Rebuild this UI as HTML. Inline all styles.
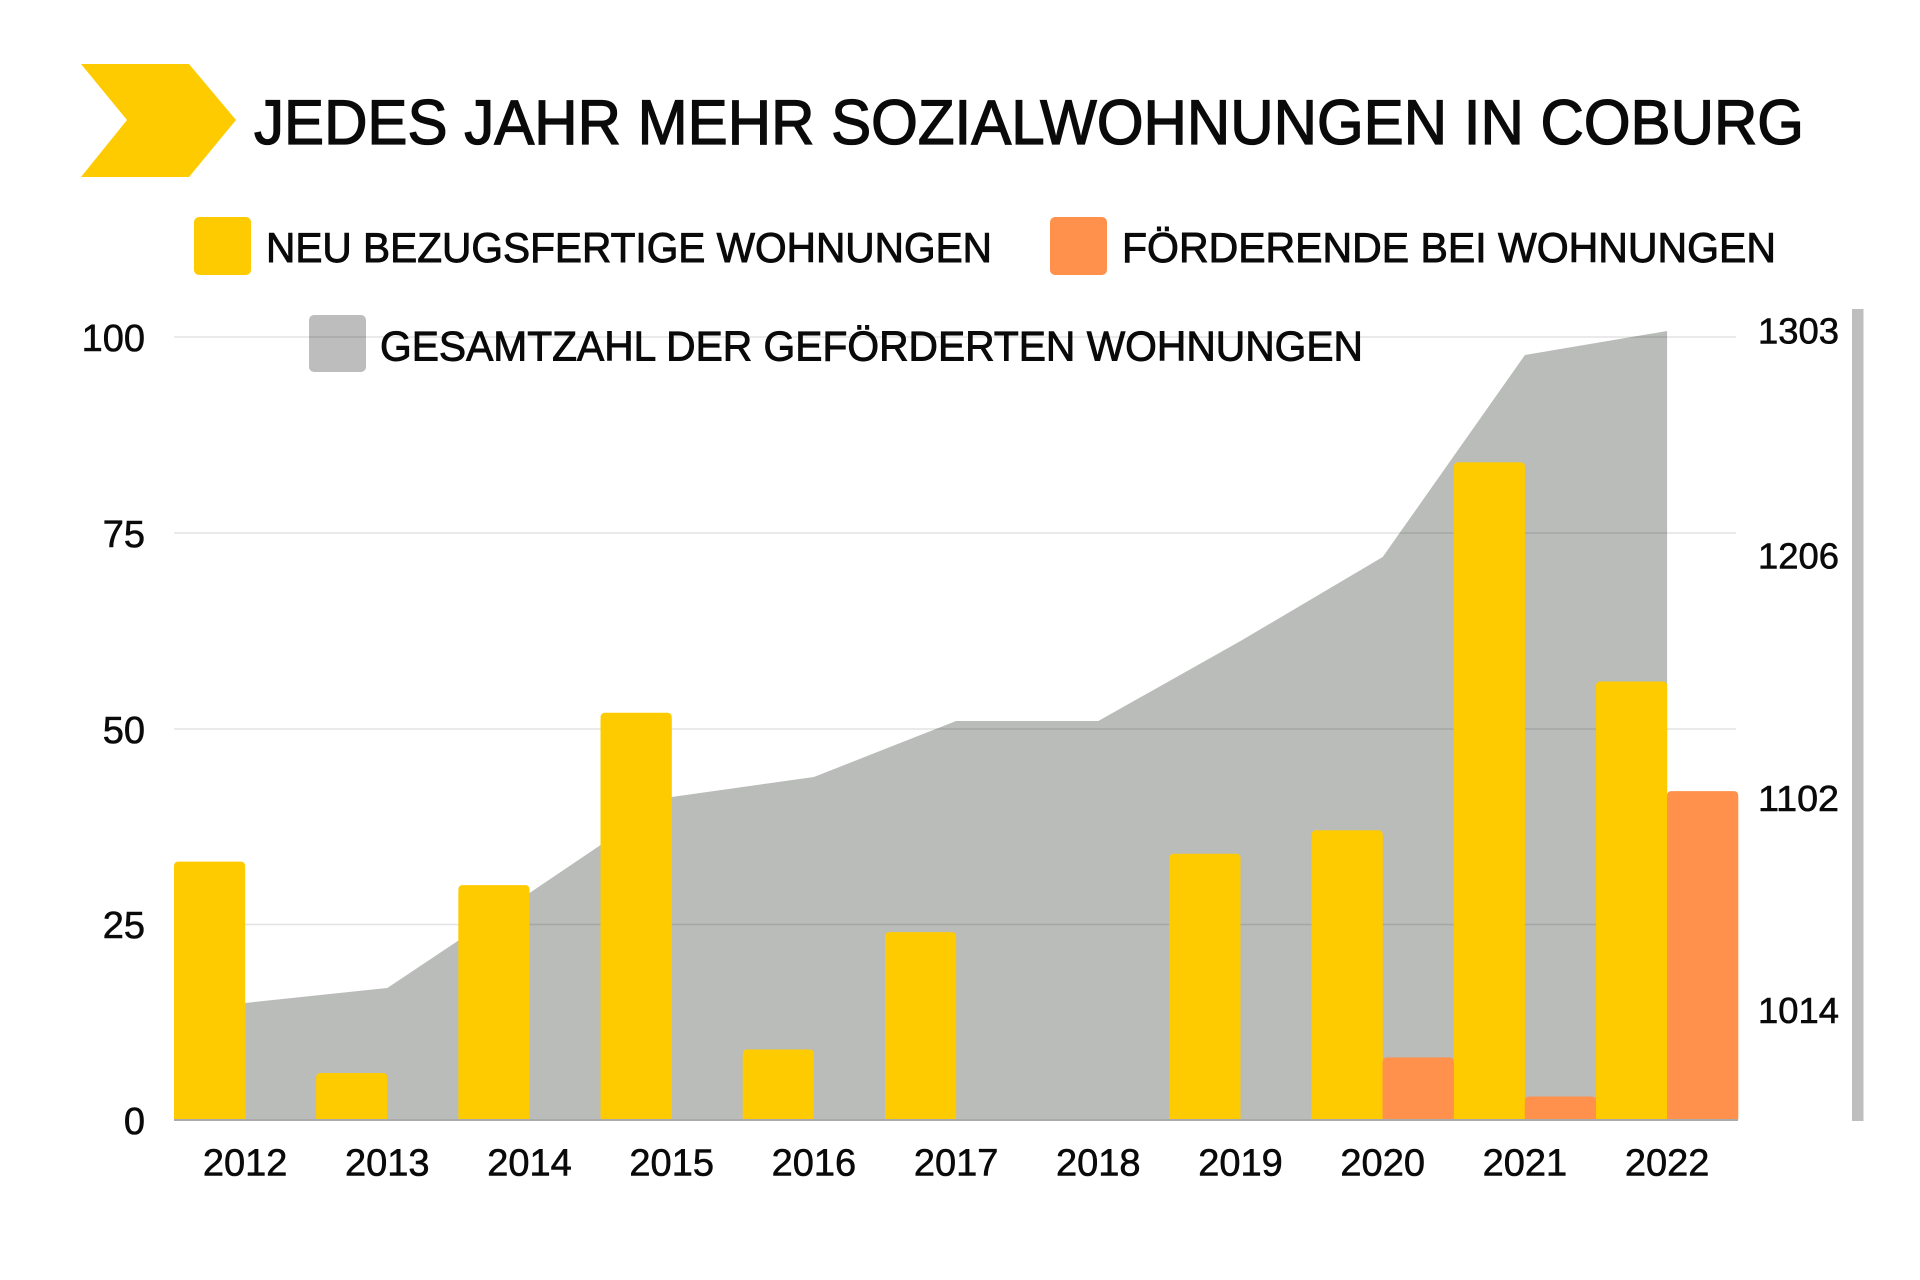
<!DOCTYPE html>
<html>
<head>
<meta charset="utf-8">
<style>
  html, body { margin: 0; padding: 0; background: #ffffff; }
  svg { display: block; }
  text { font-family: "Liberation Sans", "DejaVu Sans", sans-serif; fill: #0a0a0a; }
</style>
</head>
<body>
<svg width="1920" height="1280" viewBox="0 0 1920 1280" xmlns="http://www.w3.org/2000/svg">
  <rect x="0" y="0" width="1920" height="1280" fill="#ffffff"/>

  <!-- Chevron -->
  <polygon points="81,64 189,64 236,120 189,177 81,177 127,120" fill="#FECB00"/>

  <!-- Title -->
  <text x="254" y="144" font-size="63" textLength="1550" lengthAdjust="spacingAndGlyphs" stroke="#0a0a0a" stroke-width="1.3">JEDES JAHR MEHR SOZIALWOHNUNGEN IN COBURG</text>

  <!-- Legend -->
  <rect x="194" y="217" width="57" height="58" rx="5" fill="#FECB00"/>
  <text x="266" y="262" font-size="42" textLength="726" lengthAdjust="spacingAndGlyphs" stroke="#0a0a0a" stroke-width="0.9">NEU BEZUGSFERTIGE WOHNUNGEN</text>

  <rect x="1050" y="217" width="57" height="58" rx="5" fill="#FF914D"/>
  <text x="1122" y="262" font-size="42" textLength="654" lengthAdjust="spacingAndGlyphs" stroke="#0a0a0a" stroke-width="0.9">FÖRDERENDE BEI WOHNUNGEN</text>

  <rect x="309" y="315" width="57" height="57" rx="5" fill="#BDBDBD"/>
  <text x="380" y="360.5" font-size="42" textLength="983" lengthAdjust="spacingAndGlyphs" stroke="#0a0a0a" stroke-width="0.9">GESAMTZAHL DER GEFÖRDERTEN WOHNUNGEN</text>

  <!-- Gridline 100 (behind legend area is fine) -->
  <!-- Gray area -->
  <polygon fill="#BABCBA" points="245.1,1120 245.1,1003 387.3,988 529.5,893 671.7,797 813.9,777 956.1,721 1098.3,721 1240.5,641 1382.7,557 1524.9,355 1667.1,331 1667.1,1120"/>

  <!-- Gridlines -->
  <g stroke="rgba(0,0,0,0.11)" stroke-width="1.6">
    <line x1="174" y1="337" x2="1736" y2="337"/>
    <line x1="174" y1="533" x2="1736" y2="533"/>
    <line x1="174" y1="729" x2="1736" y2="729"/>
    <line x1="174" y1="924.5" x2="1736" y2="924.5"/>
  </g>

  <!-- Yellow bars -->
  <g fill="#FECB00">
    <rect x="174" y="861.6" width="71.1" height="258.4" rx="4"/><rect x="174" y="868" width="71.1" height="252"/>
    <rect x="316.2" y="1073" width="71.1" height="47" rx="4"/><rect x="316.2" y="1079" width="71.1" height="41"/>
    <rect x="458.4" y="885.1" width="71.1" height="234.9" rx="4"/><rect x="458.4" y="891" width="71.1" height="229"/>
    <rect x="600.6" y="712.8" width="71.1" height="407.2" rx="4"/><rect x="600.6" y="719" width="71.1" height="401"/>
    <rect x="742.8" y="1049.5" width="71.1" height="70.5" rx="4"/><rect x="742.8" y="1056" width="71.1" height="64"/>
    <rect x="885" y="932.1" width="71.1" height="187.9" rx="4"/><rect x="885" y="938" width="71.1" height="182"/>
    <rect x="1169.4" y="853.8" width="71.1" height="266.2" rx="4"/><rect x="1169.4" y="860" width="71.1" height="260"/>
    <rect x="1311.6" y="830.3" width="71.1" height="289.7" rx="4"/><rect x="1311.6" y="836" width="71.1" height="284"/>
    <rect x="1453.8" y="462.3" width="71.1" height="657.7" rx="4"/><rect x="1453.8" y="468" width="71.1" height="652"/>
    <rect x="1596" y="681.5" width="71.1" height="438.5" rx="4"/><rect x="1596" y="688" width="71.1" height="432"/>
  </g>

  <!-- Orange bars -->
  <g fill="#FF914D">
    <rect x="1382.7" y="1057.4" width="71.1" height="62.6" rx="4"/><rect x="1382.7" y="1063" width="71.1" height="57"/>
    <rect x="1524.9" y="1096.5" width="71.1" height="23.5" rx="4"/><rect x="1524.9" y="1102" width="71.1" height="18"/>
    <rect x="1667.1" y="791.1" width="71.1" height="328.9" rx="4"/><rect x="1667.1" y="797" width="71.1" height="323"/>
  </g>

  <!-- Baseline -->
  <line x1="174" y1="1120" x2="1738" y2="1120" stroke="#AAAAAA" stroke-width="2"/>

  <!-- Left axis labels -->
  <g font-size="38" text-anchor="end" stroke="#0a0a0a" stroke-width="0.6">
    <text x="145" y="351">100</text>
    <text x="145" y="547">75</text>
    <text x="145" y="743">50</text>
    <text x="145" y="938">25</text>
    <text x="145" y="1134">0</text>
  </g>

  <!-- Right axis bar -->
  <rect x="1852" y="309" width="11.5" height="812" fill="#BDBEBD"/>

  <!-- Right axis labels -->
  <g font-size="36" stroke="#0a0a0a" stroke-width="0.6">
    <text x="1758" y="343.6" textLength="81" lengthAdjust="spacingAndGlyphs">1303</text>
    <text x="1758" y="568.6" textLength="81" lengthAdjust="spacingAndGlyphs">1206</text>
    <text x="1758" y="811" textLength="81" lengthAdjust="spacingAndGlyphs">1102</text>
    <text x="1758" y="1023" textLength="81" lengthAdjust="spacingAndGlyphs">1014</text>
  </g>

  <!-- Year labels -->
  <g font-size="38" text-anchor="middle" stroke="#0a0a0a" stroke-width="0.6">
    <text x="245.1" y="1175.5">2012</text>
    <text x="387.3" y="1175.5">2013</text>
    <text x="529.5" y="1175.5">2014</text>
    <text x="671.7" y="1175.5">2015</text>
    <text x="813.9" y="1175.5">2016</text>
    <text x="956.1" y="1175.5">2017</text>
    <text x="1098.3" y="1175.5">2018</text>
    <text x="1240.5" y="1175.5">2019</text>
    <text x="1382.7" y="1175.5">2020</text>
    <text x="1524.9" y="1175.5">2021</text>
    <text x="1667.1" y="1175.5">2022</text>
  </g>
</svg>
</body>
</html>
